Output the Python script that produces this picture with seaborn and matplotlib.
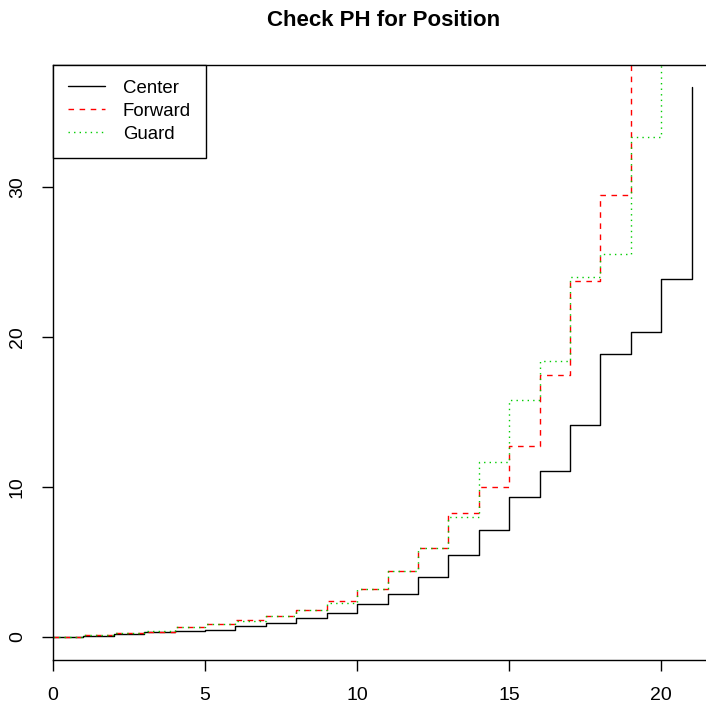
import matplotlib
matplotlib.use("Agg")
import matplotlib.pyplot as plt
import seaborn as sns
import pandas as pd

# ---- data ----
center_x = list(range(0, 22))
center_y = [0, 0.10, 0.20, 0.33, 0.42, 0.50, 0.73, 0.95, 1.29, 1.58, 2.18,
            2.87, 4.00, 5.47, 7.15, 9.31, 11.05, 14.15, 18.87, 20.35, 23.87, 36.65]
forward_x = list(range(0, 20))
forward_y = [0, 0.13, 0.24, 0.33, 0.65, 0.87, 1.11, 1.40, 1.82, 2.42, 3.20,
             4.42, 5.91, 8.25, 9.98, 12.71, 17.45, 23.71, 29.47, 47.0]
guard_x = list(range(0, 21))
guard_y = [0, 0.13, 0.24, 0.42, 0.65, 0.87, 1.10, 1.40, 1.80, 2.24, 3.20,
           4.42, 5.91, 7.98, 11.69, 15.80, 18.42, 24.00, 25.55, 33.33, 41.0]
series_names = ["Center", "Forward", "Guard"]
x_ticks = [0, 5, 10, 15, 20]
y_ticks = [0, 10, 20, 30]
title = "Check PH for Position"

sns.set_style("white")
plt.rcParams['font.family'] = ['Liberation Sans', 'DejaVu Sans']
plt.rcParams['text.color'] = 'black'

fig = plt.figure(figsize=(7.06, 7.04), dpi=100)
ax = fig.add_axes([53/706, 44/704, (716-53)/706, (660-65)/704])

styles = {
    "Center": dict(color="black", linestyle="-"),
    "Forward": dict(color="#FF0000", linestyle=(0, (4, 4))),
    "Guard": dict(color="#00CD00", linestyle=(0, (1, 3))),
}
data = {
    "Center": (center_x, center_y),
    "Forward": (forward_x, forward_y),
    "Guard": (guard_x, guard_y),
}
for name in series_names:
    xs, ys = data[name]
    df = pd.DataFrame({"t": xs, "h": ys})
    sns.lineplot(data=df, x="t", y="h", ax=ax, drawstyle="steps-post",
                 linewidth=1.0, label=name, estimator=None, **styles[name])

ax.set_xlim(0, 21.8)
ax.set_ylim(-1.53, 38.13)
ax.set_xticks(x_ticks)
ax.set_yticks(y_ticks)
ax.set_xlabel("")
ax.set_ylabel("")
for s in ax.spines.values():
    s.set_color("black")
    s.set_linewidth(1.0)
ax.tick_params(axis="both", direction="out", length=8, width=1.0,
               color="black", labelsize=14, labelcolor="black", pad=11.5,
               left=True, bottom=True)
for lab in ax.get_yticklabels():
    lab.set_rotation(90)
    lab.set_va("center")

leg = ax.legend(loc="upper left", bbox_to_anchor=(0, 1), borderaxespad=0,
                fancybox=False, frameon=True, fontsize=13.4, handlelength=2.0,
                handletextpad=0.95, borderpad=0.8, labelspacing=0.32,
                edgecolor="black", labelcolor="black", framealpha=1)
leg.get_frame().set_linewidth(1.0)

fig.text(384/706, 1 - 20/704, title, ha="center", va="center",
         fontsize=16, fontweight="bold", color="black")

fig.savefig("out.png", dpi=100)
